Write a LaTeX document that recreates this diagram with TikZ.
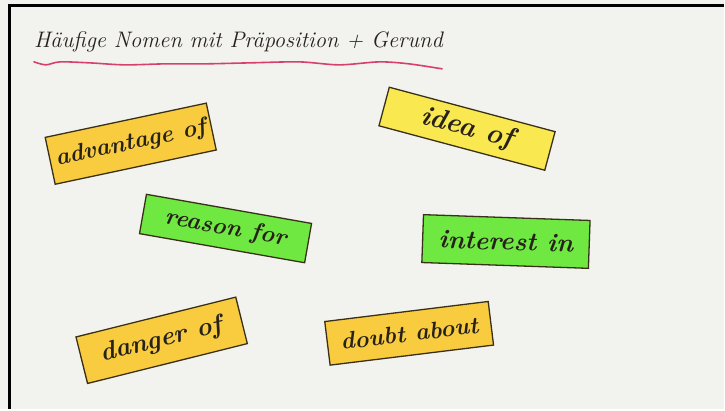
\documentclass[tikz,border=0pt]{standalone}
\usepackage{tikz}
\usetikzlibrary{positioning}

\definecolor{board}{RGB}{242,242,238}
\definecolor{cardgold}{RGB}{249,204,64}
\definecolor{cardlemon}{RGB}{250,232,80}
\definecolor{cardlime}{RGB}{112,232,66}
\definecolor{cardedge}{RGB}{56,48,24}
\definecolor{marker}{RGB}{214,64,106}
\definecolor{ink}{RGB}{38,34,26}

\begin{document}
\begin{tikzpicture}[x=1pt,y=-1pt,
    card/.style={draw=cardedge,line width=1.3pt,inner sep=0pt,
        minimum width=165pt,minimum height=48pt,text=ink,
        font=\fontsize{24}{28}\selectfont\bfseries\itshape},
    gold/.style={card,fill=cardgold},
    lemon/.style={card,fill=cardlemon},
    lime/.style={card,fill=cardlime}]
    % board and frame
    \fill[board] (0,0) rectangle (725,410);
    \draw[line width=3pt] (9.5,410) |- (725,6);
    % heading
    \node[anchor=west,inner sep=0pt,text=ink,font=\fontsize{22.5}{26}\selectfont\itshape] (title) at (34,42)
        {Häufige Nomen mit Präposition + Gerund};
    \draw[marker,line width=1.6pt,line cap=round] plot[smooth] coordinates
        {(34,62) (46,65) (60,62) (90,63) (125,65) (165,64) (205,64) (250,63)
         (300,62) (340,65) (380,62) (410,64) (443,69)};
    % cards
    \node[gold,rotate=12] (advantage) at (131,144) {advantage of};
    \node[lemon,rotate=-15,minimum width=172pt,minimum height=40pt,
        font=\fontsize{28}{30}\selectfont\bfseries\itshape] (idea) at (468,129) {idea of};
    \node[lime,rotate=-10,minimum width=168pt,minimum height=40pt] (reason) at (226,229) {reason for};
    \node[lime,rotate=-2,minimum width=167pt,
        font=\fontsize{26}{30}\selectfont\bfseries\itshape] (interest) at (507,242) {interest in};
    \node[gold,rotate=14,font=\fontsize{26}{30}\selectfont\bfseries\itshape] (danger) at (162,341) {danger of};
    \node[gold,rotate=7,minimum height=44pt] (doubt) at (410,334) {doubt about};
\end{tikzpicture}
\end{document}
